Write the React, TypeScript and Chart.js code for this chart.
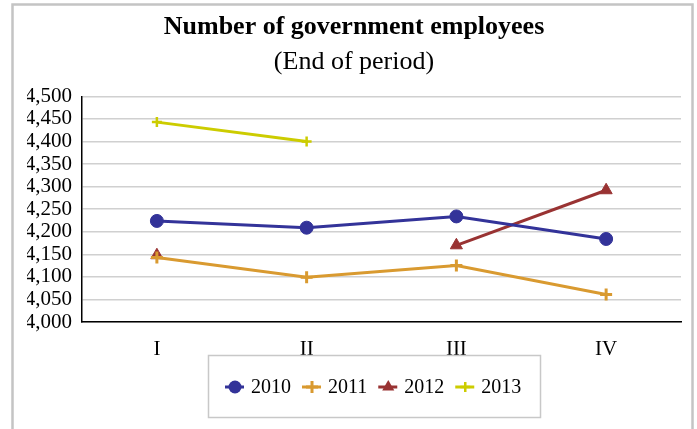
import React, { useEffect, useRef } from "react";
import { Chart, registerables } from "chart.js";

Chart.register(...registerables);

const titleText = "Number of government employees";
const subtitleText = "(End of period)";
const categories = ["I", "II", "III", "IV"];
const seriesLabels = ["2010", "2011", "2012", "2013"];
const values2010 = [4224, 4209, 4234, 4184];
const values2011 = [4143, 4099, 4125, 4061];
const values2012 = [4148, null, 4170, 4292];
const values2013 = [4443, 4400, null, null];
const yMin = 4000;
const yMax = 4500;
const yStep = 50;

const colors = ["#333399", "#D99A30", "#993333", "#CCCC00"];
const pointStyles = ["circle", "cross", "triangle", "cross"];
const pointRadii = [6.5, 6, 7, 5];
const pointBorderWidths = [1, 3, 1, 2.5];

const FONT = "'Liberation Serif', 'Times New Roman', serif";

function drawMarker(ctx: CanvasRenderingContext2D, style: string, r: number, x: number, y: number, bw: number, color: string) {
  ctx.save();
  ctx.fillStyle = color;
  ctx.strokeStyle = color;
  ctx.lineWidth = bw;
  ctx.beginPath();
  if (style === "circle") {
    ctx.arc(x, y, r, 0, Math.PI * 2);
    ctx.fill();
  } else if (style === "triangle") {
    ctx.moveTo(x, y - r);
    ctx.lineTo(x + r * Math.sin((2 * Math.PI) / 3), y + r * 0.5);
    ctx.lineTo(x - r * Math.sin((2 * Math.PI) / 3), y + r * 0.5);
    ctx.closePath();
    ctx.fill();
  } else {
    ctx.moveTo(x - r, y);
    ctx.lineTo(x + r, y);
    ctx.moveTo(x, y - r);
    ctx.lineTo(x, y + r);
    ctx.stroke();
  }
  ctx.restore();
}

const framePlugin = {
  id: "frameAndLegend",
  afterDraw(chart: any) {
    const ctx = chart.ctx;
    ctx.save();
    // outer frame
    ctx.strokeStyle = "#c4c4c4";
    ctx.lineWidth = 2.5;
    ctx.strokeRect(12.5, 4.5, 680, 440);
    // legend box
    ctx.strokeStyle = "#c8c8c8";
    ctx.lineWidth = 1.5;
    ctx.strokeRect(208.5, 355.5, 332, 62);
    // legend items
    ctx.font = `20px ${FONT}`;
    ctx.textBaseline = "middle";
    ctx.textAlign = "left";
    let cursor = 225;
    const cy = 387;
    chart.data.datasets.forEach((ds: any) => {
      const mx = cursor + 10;
      ctx.strokeStyle = ds.borderColor;
      ctx.lineWidth = 3;
      ctx.beginPath();
      ctx.moveTo(cursor, cy);
      ctx.lineTo(cursor + 19, cy);
      ctx.stroke();
      drawMarker(ctx, ds.pointStyle, ds.pointRadius, mx, cy, ds.pointBorderWidth, ds.borderColor);
      ctx.fillStyle = "#000";
      ctx.fillText(ds.label, cursor + 26, cy + 1);
      const w = ctx.measureText(ds.label).width;
      cursor += 26 + w + 11;
    });
    ctx.restore();
  },
};

export default function App() {
  const ref = useRef<HTMLCanvasElement>(null);
  useEffect(() => {
    if (!ref.current) return;
    const series = [values2010, values2011, values2012, values2013];
    const chart = new Chart(ref.current, {
      type: "line",
      data: {
        labels: categories,
        datasets: series.map((vals, i) => ({
          label: seriesLabels[i],
          data: vals,
          borderColor: colors[i],
          backgroundColor: colors[i],
          pointBackgroundColor: colors[i],
          pointBorderColor: colors[i],
          pointStyle: pointStyles[i] as any,
          pointRadius: pointRadii[i],
          pointBorderWidth: pointBorderWidths[i],
          borderWidth: 3,
          spanGaps: false,
          tension: 0,
        })),
      },
      options: {
        responsive: false,
        animation: false,
        devicePixelRatio: 1,
        layout: { padding: { left: 27, right: 16, top: 0, bottom: 0 } },
        plugins: {
          legend: { display: false },
          tooltip: { enabled: false },
          title: {
            display: true,
            text: titleText,
            color: "#000",
            font: { family: FONT, size: 26, weight: "bold" },
            padding: { top: 12, bottom: 2 },
          },
          subtitle: {
            display: true,
            text: subtitleText,
            color: "#000",
            font: { family: FONT, size: 26, weight: "normal" },
            padding: { top: 1, bottom: 19 },
          },
        },
        scales: {
          x: {
            offset: true,
            grid: { display: false, drawTicks: false },
            border: { display: true, color: "#000", width: 1.5 },
            ticks: { color: "#000", font: { family: FONT, size: 21 }, padding: 15 },
            afterFit: (s: any) => {
              s.height = 107;
            },
          },
          y: {
            min: yMin,
            max: yMax,
            ticks: {
              stepSize: yStep,
              autoSkip: false,
              color: "#000",
              padding: 10,
              font: { family: FONT, size: 21 },
              callback: (v: any) => Number(v).toLocaleString("en-US"),
            },
            grid: { color: "#d0d0d0", lineWidth: 1.5, drawTicks: false },
            border: { display: true, color: "#000", width: 1.5 },
            afterFit: (s: any) => {
              s.width = 55;
            },
          },
        },
      },
      plugins: [framePlugin],
    });
    return () => chart.destroy();
  }, []);
  return (
    <div style={{ position: "fixed", left: 0, top: 0, width: 697, height: 429, background: "#fff" }}>
      <canvas ref={ref} width={697} height={429} />
    </div>
  );
}
